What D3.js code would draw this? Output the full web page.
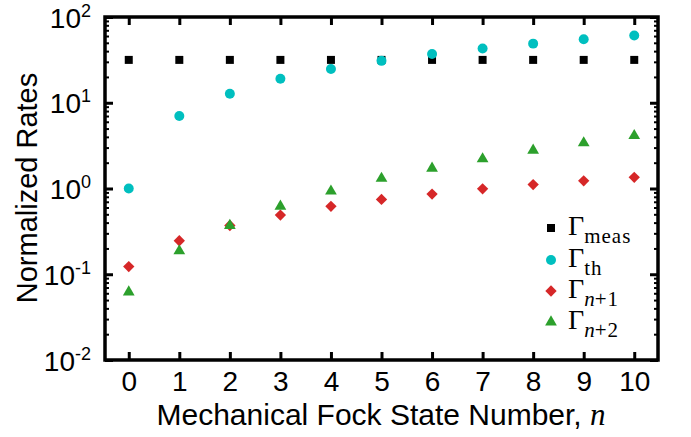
<!DOCTYPE html>
<html>
<head>
<meta charset="UTF-8">
<script src="https://d3js.org/d3.v7.min.js"></script>
<style>
  body {
    margin: 0;
    padding: 0;
    background: #fff;
  }
  .axis text {
    font-family: 'Liberation Sans', Arial, sans-serif;
    fill: #000;
  }
  .label {
    font-family: 'Liberation Sans', Arial, sans-serif;
    font-size: 29px;
    fill: #000;
  }
  .math {
    font-family: 'Liberation Serif', 'DejaVu Serif', serif;
  }
</style>
</head>
<body>

<div id="chart"></div>

<script>
  const fockN = [0, 1, 2, 3, 4, 5, 6, 7, 8, 9, 10];
  const gammaMeas = [31.6, 31.6, 31.6, 31.6, 31.6, 31.6, 31.6, 31.6, 31.6, 31.6, 31.6];
  const gammaTh = [1.0, 7.0, 12.7, 19.0, 24.8, 30.8, 37.0, 42.9, 48.9, 55.0, 61.0];
  const gammaN1 = [0.123, 0.246, 0.37, 0.49, 0.62, 0.745, 0.86, 0.99, 1.11, 1.23, 1.35];
  const gammaN2 = [0.062, 0.187, 0.37, 0.62, 0.93, 1.31, 1.72, 2.21, 2.79, 3.40, 4.13];
  const yMajor = [0.01, 0.1, 1, 10, 100];
  const yExponents = ["-2", "-1", "0", "1", "2"];

  const width = 691;
  const height = 437;
  const mLeft = 105, mRight = 658, mTop = 17, mBottom = 360;

  const svg = d3.select("#chart")
    .append("svg")
    .attr("width", width)
    .attr("height", height);

  const x = d3.scaleLinear().domain([-0.47, 10.47]).range([mLeft, mRight]);
  const y = d3.scaleLog().domain([0.01, 100]).range([mBottom, mTop]);

  const yMinor = y.ticks().filter(v => !yMajor.some(m => Math.abs(m - v) < 1e-9));

  // minor y ticks, both sides
  svg.append("g")
    .attr("transform", `translate(${mLeft},0)`)
    .call(d3.axisLeft(y).tickValues(yMinor).tickSize(-4).tickFormat(""))
    .call(g => g.selectAll("line").attr("stroke-width", 2));
  svg.append("g")
    .attr("transform", `translate(${mRight},0)`)
    .call(d3.axisRight(y).tickValues(yMinor).tickSize(-4).tickFormat(""))
    .call(g => g.selectAll("line").attr("stroke-width", 2));

  // major y ticks
  const yLeft = svg.append("g")
    .attr("class", "axis")
    .attr("transform", `translate(${mLeft},0)`)
    .call(d3.axisLeft(y).tickValues(yMajor).tickSize(-8).tickFormat(""));
  yLeft.selectAll("line").attr("stroke-width", 3);
  yLeft.selectAll(".tick text").remove();
  yLeft.selectAll(".tick").each(function(d, i) {
    const t = d3.select(this).append("text")
      .attr("x", -14)
      .attr("y", 10)
      .attr("text-anchor", "end")
      .style("font-size", "28px");
    t.append("tspan").text("10");
    t.append("tspan")
      .attr("dy", -11)
      .style("font-size", "18px")
      .text(yExponents[i]);
  });

  svg.append("g")
    .attr("transform", `translate(${mRight},0)`)
    .call(d3.axisRight(y).tickValues(yMajor).tickSize(-8).tickFormat(""))
    .call(g => g.selectAll("line").attr("stroke-width", 3));

  // x ticks
  const xBottom = svg.append("g")
    .attr("class", "axis")
    .attr("transform", `translate(0,${mBottom})`)
    .call(d3.axisBottom(x).tickValues(fockN).tickSize(-8).tickPadding(11));
  xBottom.selectAll("line").attr("stroke-width", 3);
  xBottom.selectAll("text").style("font-size", "28px");

  svg.append("g")
    .attr("transform", `translate(0,${mTop})`)
    .call(d3.axisTop(x).tickValues(fockN).tickSize(-8).tickFormat(""))
    .call(g => g.selectAll("line").attr("stroke-width", 3));

  svg.selectAll(".domain").remove();

  // frame
  svg.append("rect")
    .attr("x", mLeft)
    .attr("y", mTop)
    .attr("width", mRight - mLeft)
    .attr("height", mBottom - mTop)
    .attr("fill", "none")
    .attr("stroke", "#000")
    .attr("stroke-width", 3.5);

  const series = [
    { sub: "meas", italic: "", values: gammaMeas, color: "#000000", shape: d3.symbolSquare, size: 64, rot: 0 },
    { sub: "th", italic: "", values: gammaTh, color: "#00bfbf", shape: d3.symbolCircle, size: 78, rot: 0 },
    { sub: "+1", italic: "n", values: gammaN1, color: "#d62728", shape: d3.symbolSquare, size: 64, rot: 45 },
    { sub: "+2", italic: "n", values: gammaN2, color: "#2ca02c", shape: d3.symbolTriangle, size: 60, rot: 0 }
  ];

  series.forEach(s => {
    svg.append("g")
      .selectAll("path")
      .data(s.values)
      .enter().append("path")
      .attr("d", d3.symbol().type(s.shape).size(s.size))
      .attr("fill", s.color)
      .attr("transform", (d, i) => `translate(${x(fockN[i])},${y(d)}) rotate(${s.rot})`);
  });

  // legend
  const legend = svg.append("g");
  const legendY = [228, 260, 291, 322];
  series.forEach((s, i) => {
    legend.append("path")
      .attr("d", d3.symbol().type(s.shape).size(s.size))
      .attr("fill", s.color)
      .attr("transform", `translate(551,${legendY[i]}) rotate(${s.rot})`);
    const t = legend.append("text")
      .attr("class", "math")
      .attr("x", 568)
      .attr("y", legendY[i] + 7)
      .style("font-size", "28px");
    t.append("tspan").text("Γ");
    const subY = legendY[i] + 15;
    if (s.italic) {
      t.append("tspan").attr("y", subY).style("font-size", "21px")
        .style("font-style", "italic").text(s.italic);
    }
    t.append("tspan").attr("y", subY).style("font-size", "21px")
      .style("letter-spacing", "1px").text(s.sub);
  });

  // axis labels
  svg.append("text")
    .attr("class", "label")
    .attr("text-anchor", "middle")
    .attr("transform", `translate(37,188) rotate(-90)`)
    .text("Normalized Rates");

  const xl = svg.append("text")
    .attr("class", "label")
    .attr("text-anchor", "middle")
    .attr("x", 381)
    .attr("y", 425)
    .style("font-size", "30px");
  xl.append("tspan").text("Mechanical Fock State Number, ");
  xl.append("tspan")
    .attr("class", "math")
    .style("font-style", "italic")
    .style("font-size", "31px")
    .text("n");
</script>

</body>
</html>
